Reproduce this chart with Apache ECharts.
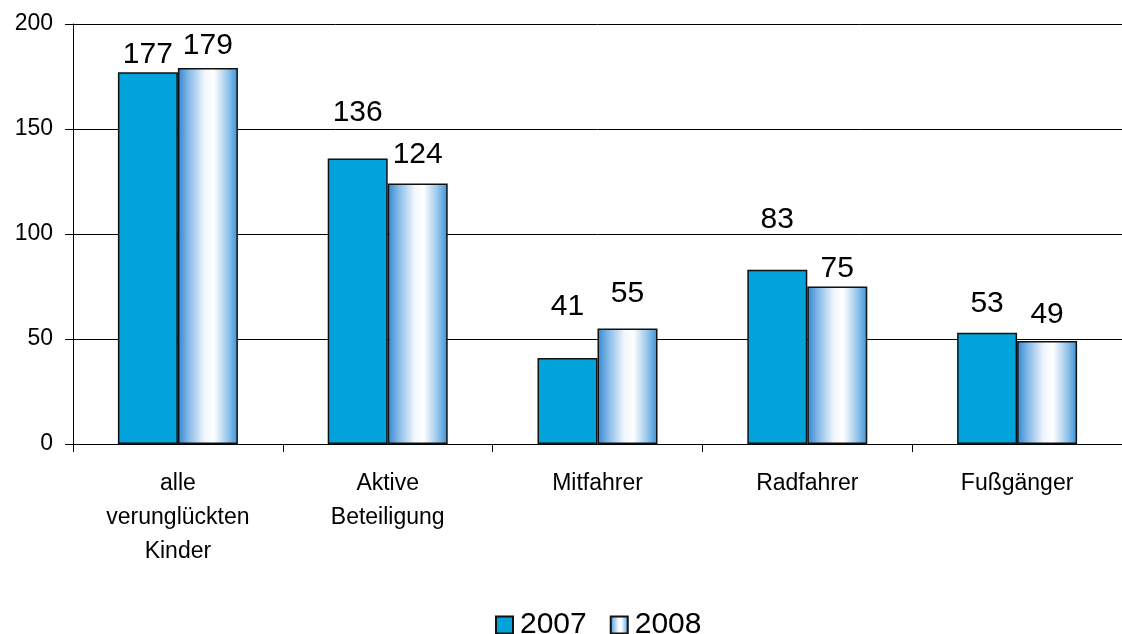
<!DOCTYPE html>
<html>
<head>
<meta charset="utf-8">
<script src="https://cdn.jsdelivr.net/npm/echarts@6/dist/echarts.min.js"></script>
<style>html,body{margin:0;padding:0;background:#fff;}#c{width:1122px;height:634px;}</style>
</head>
<body>
<div id="c"></div>
<script>
const categories = ['alle\nverunglückten\nKinder', 'Aktive\nBeteiligung', 'Mitfahrer', 'Radfahrer', 'Fußgänger'];
const seriesNames = ['2007', '2008'];
const values2007 = [177, 136, 41, 83, 53];
const values2008 = [179, 124, 55, 75, 49];
const yTicks = [0, 50, 100, 150, 200];

// label distances above bar tops (style only)
const labelDist2007 = [3, 31, 36, 35, 14];
const labelDist2008 = [7, 14, 20, 3, 11];

const FONT = '"Liberation Sans", Arial, sans-serif';
const chart = echarts.init(document.getElementById('c'), null, {renderer: 'canvas'});

const grad2008 = new echarts.graphic.LinearGradient(0, 0, 1, 0, [
  {offset: 0, color: '#2f86d0'},
  {offset: 0.18, color: '#86b9e7'},
  {offset: 0.45, color: '#f2f7fd'},
  {offset: 0.6, color: '#ffffff'},
  {offset: 0.82, color: '#9cc8ec'},
  {offset: 1, color: '#3a93d6'}
]);

const labelBase = {show: true, position: 'top', color: '#000', fontSize: 30, fontFamily: FONT};

chart.setOption({
  animation: false,
  textStyle: {fontFamily: FONT},
  grid: {left: 73, right: -6, top: 24, bottom: 190, containLabel: false},
  legend: {
    data: seriesNames,
    left: 490,
    top: 605,
    itemWidth: 17,
    itemHeight: 17,
    itemGap: 23,
    textStyle: {fontSize: 30, color: '#000', fontFamily: FONT, padding: [0, 0, 0, 2]},
    icon: 'rect'
  },
  xAxis: {
    type: 'category',
    data: categories,
    axisLine: {lineStyle: {color: '#000', width: 1}},
    axisTick: {show: true, length: 8, lineStyle: {color: '#000'}},
    axisLabel: {color: '#000', fontSize: 23, lineHeight: 34, margin: 23, fontFamily: FONT, interval: 0}
  },
  yAxis: {
    type: 'value',
    min: yTicks[0],
    max: yTicks[yTicks.length - 1],
    interval: yTicks[1] - yTicks[0],
    axisLine: {show: true, lineStyle: {color: '#000', width: 1}},
    axisTick: {show: true, length: 8, lineStyle: {color: '#000'}},
    splitLine: {show: true, lineStyle: {color: '#000', width: 1}},
    axisLabel: {color: '#000', fontSize: 23, margin: 20, fontFamily: FONT}
  },
  series: [
    {
      name: seriesNames[0],
      type: 'bar',
      barWidth: 60,
      barGap: '0%',
      itemStyle: {color: '#02a2da', borderColor: '#111', borderWidth: 1.5},
      label: labelBase,
      data: values2007.map((v, i) => ({value: v, label: {distance: labelDist2007[i]}}))
    },
    {
      name: seriesNames[1],
      type: 'bar',
      barWidth: 60,
      barGap: '0%',
      itemStyle: {color: grad2008, borderColor: '#111', borderWidth: 1.5},
      label: labelBase,
      data: values2008.map((v, i) => ({value: v, label: {distance: labelDist2008[i]}}))
    }
  ]
});
</script>
</body>
</html>
